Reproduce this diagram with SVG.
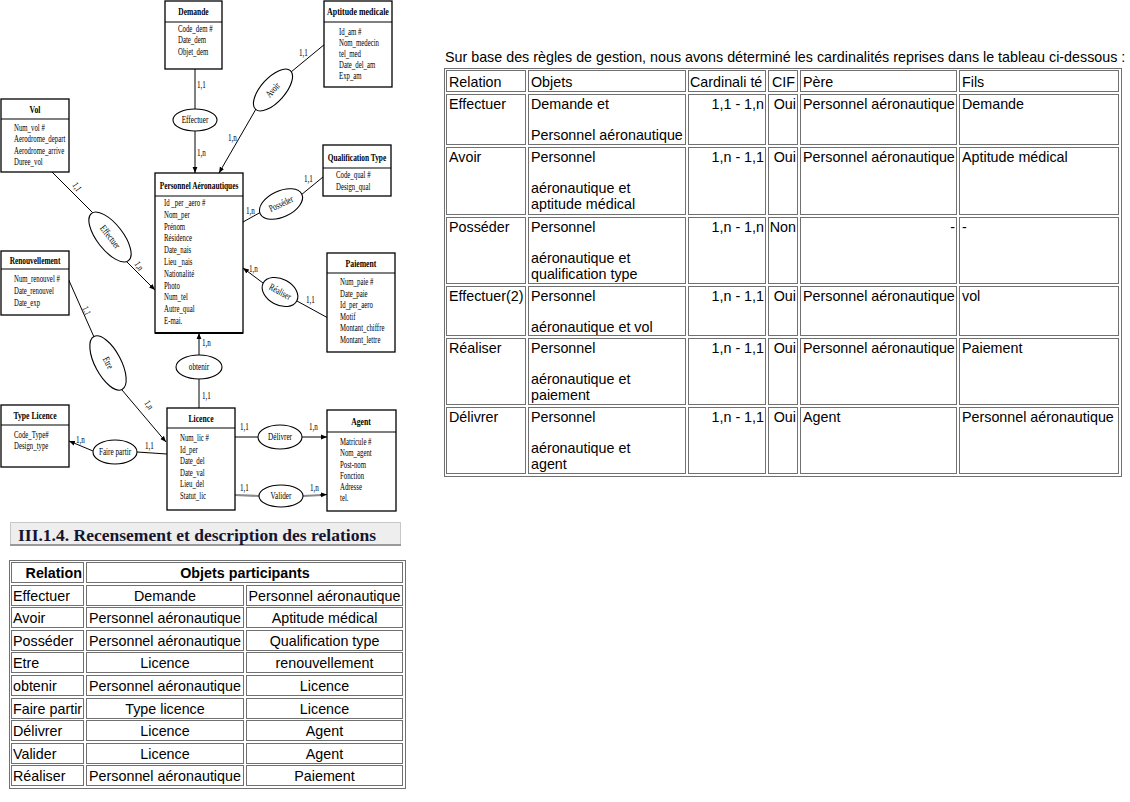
<svg xmlns="http://www.w3.org/2000/svg" width="1130" height="802" viewBox="0 0 1130 802">
<style>
.box{fill:#fff;stroke:#000;stroke-width:1.3}
.sep{stroke:#000;stroke-width:1.2}
.t{font-family:"Liberation Serif",serif;font-size:11px;font-weight:bold;text-anchor:middle;fill:#000}
.a{font-family:"Liberation Serif",serif;font-size:10px;fill:#000}
.r{font-family:"Liberation Serif",serif;font-size:10px;text-anchor:middle;fill:#000}
.c{font-family:"Liberation Serif",serif;font-size:9.5px;fill:#000}
.el{fill:#fff;stroke:#000;stroke-width:1.1}
.ln{stroke:#000;stroke-width:1;fill:none}
.lg{stroke:#8a8a8a;stroke-width:2;fill:none}
.cell{fill:none;stroke:#707070;stroke-width:1}
.tx{font-family:"Liberation Sans",Arial,sans-serif;font-size:14.3px;fill:#000}
.rt{text-anchor:end}
.ct{text-anchor:middle}
.b{font-weight:bold}
</style>
<defs>
<marker id="ar" viewBox="0 0 10 10" refX="10" refY="5" markerWidth="6" markerHeight="6" orient="auto" markerUnits="userSpaceOnUse"><path d="M0,1 L10,5 L0,9 z" fill="#000"/></marker>
</defs>
<rect x="0" y="0" width="1130" height="802" fill="#fff"/>

<!-- connectors -->
<g id="connectors">
<line class="ln" x1="195" y1="69" x2="195" y2="109"/>
<line class="ln" x1="195" y1="131" x2="195" y2="173" marker-end="url(#ar)"/>
<line class="ln" x1="325" y1="44" x2="291" y2="72"/>
<line class="ln" x1="256" y1="109" x2="219" y2="173" marker-end="url(#ar)"/>
<line class="ln" x1="243" y1="222" x2="261" y2="212"/>
<line class="ln" x1="301" y1="195" x2="323" y2="177"/>
<line class="ln" x1="52" y1="172" x2="93" y2="213"/>
<line class="ln" x1="127" y1="262" x2="155" y2="290" marker-end="url(#ar)"/>
<line class="ln" x1="67" y1="276" x2="94" y2="337"/>
<line class="ln" x1="122" y1="390" x2="166" y2="442" marker-end="url(#ar)"/>
<line class="ln" x1="328" y1="318" x2="297" y2="301"/>
<line class="ln" x1="263" y1="283" x2="243" y2="268" marker-end="url(#ar)"/>
<line class="ln" x1="199" y1="408" x2="199" y2="379"/>
<line class="ln" x1="199" y1="355" x2="199" y2="333" marker-end="url(#ar)"/>
<line class="ln" x1="167" y1="454" x2="137" y2="452"/>
<line class="ln" x1="93" y1="451" x2="69" y2="441" marker-end="url(#ar)"/>
<line class="ln" x1="235" y1="437" x2="258" y2="437"/>
<line class="ln" x1="302" y1="437" x2="327" y2="437" marker-end="url(#ar)"/>
<line class="lg" x1="235" y1="495" x2="259" y2="496"/>
<line class="lg" x1="303" y1="496" x2="322" y2="495"/>
<line class="ln" x1="320" y1="495" x2="327" y2="494.5" marker-end="url(#ar)"/>
<!-- cardinalities -->
<text class="c" transform="translate(197 88) scale(.75 1)">1,1</text>
<text class="c" transform="translate(197 156) scale(.75 1)">1,n</text>
<text class="c" transform="translate(299 56) scale(.75 1)">1,1</text>
<text class="c" transform="translate(228 141) scale(.75 1)">1,n</text>
<text class="c" transform="translate(246 214) scale(.75 1)">1,n</text>
<text class="c" transform="translate(304 182) scale(.75 1)">1,1</text>
<text class="c" transform="translate(72 185) rotate(55) scale(.75 1)">1,1</text>
<text class="c" transform="translate(134 264) rotate(55) scale(.75 1)">1,n</text>
<text class="c" transform="translate(82 308) rotate(65) scale(.75 1)">1,1</text>
<text class="c" transform="translate(144 403) rotate(55) scale(.75 1)">1,n</text>
<text class="c" transform="translate(249 272) scale(.75 1)">1,n</text>
<text class="c" transform="translate(306 303) scale(.75 1)">1,1</text>
<text class="c" transform="translate(202 346) scale(.75 1)">1,n</text>
<text class="c" transform="translate(202 399) scale(.75 1)">1,1</text>
<text class="c" transform="translate(76 443) scale(.75 1)">1,n</text>
<text class="c" transform="translate(145 449) scale(.75 1)">1,1</text>
<text class="c" transform="translate(240 430) scale(.75 1)">1,1</text>
<text class="c" transform="translate(309 430) scale(.75 1)">1,n</text>
<text class="c" transform="translate(240 491) scale(.75 1)">1,1</text>
<text class="c" transform="translate(310 491) scale(.75 1)">1,n</text>
</g>

<!-- relationships -->
<g id="rel-effectuer"><ellipse class="el" cx="195" cy="120" rx="22" ry="11"/><text class="r" transform="translate(195 123) scale(.72 1)">Effectuer</text></g>
<g id="rel-avoir"><ellipse class="el" cx="273" cy="90" rx="26" ry="12" transform="rotate(-48 273 90)"/><text class="r" transform="translate(273 90) rotate(-48) translate(0 3) scale(.72 1)">Avoir</text></g>
<g id="rel-posseder"><ellipse class="el" cx="281" cy="204" rx="23" ry="13" transform="rotate(-25 281 204)"/><text class="r" transform="translate(281 204) rotate(-25) translate(0 3) scale(.72 1)">Posséder</text></g>
<g id="rel-effectuer2"><ellipse class="el" cx="110" cy="237" rx="30" ry="13" transform="rotate(52 110 237)"/><text class="r" transform="translate(110 237) rotate(52) translate(0 3) scale(.72 1)">Effectuer</text></g>
<g id="rel-realiser"><ellipse class="el" cx="280" cy="292" rx="19" ry="13" transform="rotate(28 280 292)"/><text class="r" transform="translate(280 292) rotate(28) translate(0 3) scale(.72 1)">Réaliser</text></g>
<g id="rel-etre"><ellipse class="el" cx="108" cy="363" rx="30" ry="13" transform="rotate(62 108 363)"/><text class="r" transform="translate(108 363) rotate(62) translate(0 3) scale(.72 1)">Etre</text></g>
<g id="rel-obtenir"><ellipse class="el" cx="199" cy="367" rx="23" ry="12"/><text class="r" transform="translate(199 370) scale(.72 1)">obtenir</text></g>
<g id="rel-fairepartir"><ellipse class="el" cx="115" cy="452" rx="22" ry="12"/><text class="r" transform="translate(115 455) scale(.72 1)">Faire partir</text></g>
<g id="rel-delivrer"><ellipse class="el" cx="280" cy="437" rx="22" ry="12"/><text class="r" transform="translate(280 440) scale(.72 1)">Délivrer</text></g>
<g id="rel-valider"><ellipse class="el" cx="281" cy="496" rx="22" ry="11"/><text class="r" transform="translate(281 499) scale(.72 1)">Valider</text></g>

<!-- entities -->
<g id="demande">
<rect class="box" x="165" y="1" width="57" height="68"/>
<line class="sep" x1="165" y1="22" x2="222" y2="22"/>
<text class="t" transform="translate(193.5 15) scale(.68 1)">Demande</text>
<text class="a" transform="translate(178 32) scale(.68 1)"><tspan x="0" y="0">Code_dem #</tspan><tspan x="0" y="11.5">Date_dem</tspan><tspan x="0" y="23">Objet_dem</tspan></text>
</g>
<g id="aptitude">
<rect class="box" x="324" y="1" width="68" height="86"/>
<line class="sep" x1="324" y1="22" x2="392" y2="22"/>
<text class="t" transform="translate(358 15) scale(.72 1)">Aptitude medicale</text>
<text class="a" transform="translate(339 35) scale(.68 1)"><tspan x="0" y="0">Id_am #</tspan><tspan x="0" y="11">Nom_medecin</tspan><tspan x="0" y="22">tel_med</tspan><tspan x="0" y="33">Date_del_am</tspan><tspan x="0" y="44">Exp_am</tspan></text>
</g>
<g id="vol">
<rect class="box" x="1" y="99" width="68" height="73"/>
<line class="sep" x1="1" y1="119" x2="69" y2="119"/>
<text class="t" transform="translate(35 113) scale(.7 1)">Vol</text>
<text class="a" transform="translate(14 131) scale(.68 1)"><tspan x="0" y="0">Num_vol #</tspan><tspan x="0" y="11.5">Aerodrome_depart</tspan><tspan x="0" y="23">Aerodrome_arrive</tspan><tspan x="0" y="34.5">Duree_vol</tspan></text>
</g>
<g id="qualification">
<rect class="box" x="323" y="145" width="68" height="51"/>
<line class="sep" x1="323" y1="168" x2="391" y2="168"/>
<text class="t" transform="translate(357 161) scale(.67 1)">Qualification Type</text>
<text class="a" transform="translate(336 178) scale(.68 1)"><tspan x="0" y="0">Code_qual #</tspan><tspan x="0" y="12">Design_qual</tspan></text>
</g>
<g id="personnel">
<rect class="box" x="155" y="173" width="88" height="160"/>
<line class="sep" x1="155" y1="196" x2="243" y2="196"/>
<line x1="155" y1="333" x2="243" y2="333" stroke="#000" stroke-width="2"/>
<text class="t" transform="translate(199 189) scale(.67 1)">Personnel Aéronautiques</text>
<text class="a" transform="translate(164 206) scale(.68 1)"><tspan x="0" y="0">Id _per _aero #</tspan><tspan x="0" y="11.8">Nom_per</tspan><tspan x="0" y="23.6">Prénom</tspan><tspan x="0" y="35.4">Résidence</tspan><tspan x="0" y="47.2">Date_nais</tspan><tspan x="0" y="59">Lieu _nais</tspan><tspan x="0" y="70.8">Nationalité</tspan><tspan x="0" y="82.6">Photo</tspan><tspan x="0" y="94.4">Num_tel</tspan><tspan x="0" y="106.2">Autre_qual</tspan><tspan x="0" y="118">E-mai.</tspan></text>
</g>
<g id="renouvellement">
<rect class="box" x="1" y="251" width="68" height="64"/>
<line class="sep" x1="1" y1="269" x2="69" y2="269"/>
<text class="t" transform="translate(35 264) scale(.67 1)">Renouvellement</text>
<text class="a" transform="translate(14 282) scale(.68 1)"><tspan x="0" y="0">Num_renouvel #</tspan><tspan x="0" y="12">Date_renouvel</tspan><tspan x="0" y="24">Date_exp</tspan></text>
</g>
<g id="paiement">
<rect class="box" x="327" y="253" width="68" height="99"/>
<line class="sep" x1="327" y1="273" x2="395" y2="273"/>
<text class="t" transform="translate(361 267) scale(.7 1)">Paiement</text>
<text class="a" transform="translate(340 285) scale(.68 1)"><tspan x="0" y="0">Num_paie #</tspan><tspan x="0" y="11.6">Date_paie</tspan><tspan x="0" y="23.2">Id_per_aero</tspan><tspan x="0" y="34.8">Motif</tspan><tspan x="0" y="46.4">Montant_chiffre</tspan><tspan x="0" y="58">Montant_lettre</tspan></text>
</g>
<g id="typelicence">
<rect class="box" x="1" y="405" width="68" height="62"/>
<line class="sep" x1="1" y1="425" x2="69" y2="425"/>
<text class="t" transform="translate(35 419) scale(.7 1)">Type Licence</text>
<text class="a" transform="translate(14 438) scale(.68 1)"><tspan x="0" y="0">Code_Type#</tspan><tspan x="0" y="11.5">Design_type</tspan></text>
</g>
<g id="licence">
<rect class="box" x="167" y="408" width="68" height="102"/>
<line class="sep" x1="167" y1="428" x2="235" y2="428"/>
<text class="t" transform="translate(201 422) scale(.7 1)">Licence</text>
<text class="a" transform="translate(180 441) scale(.68 1)"><tspan x="0" y="0">Num_lic #</tspan><tspan x="0" y="11.6">Id_per</tspan><tspan x="0" y="23.2">Date_del</tspan><tspan x="0" y="34.8">Date_val</tspan><tspan x="0" y="46.4">Lieu_del</tspan><tspan x="0" y="58">Statut_lic</tspan></text>
</g>
<g id="agent">
<rect class="box" x="327" y="410" width="69" height="101"/>
<line class="sep" x1="327" y1="432" x2="396" y2="432"/>
<text class="t" transform="translate(361 425) scale(.7 1)">Agent</text>
<text class="a" transform="translate(340 445) scale(.68 1)"><tspan x="0" y="0">Matricule #</tspan><tspan x="0" y="11.3">Nom_agent</tspan><tspan x="0" y="22.6">Post-nom</tspan><tspan x="0" y="33.9">Fonction</tspan><tspan x="0" y="45.2">Adresse</tspan><tspan x="0" y="56.5">tel.</tspan></text>
</g>

<!-- right table -->
<g id="cardinality-table">
<text class="tx" x="445" y="62">Sur base des règles de gestion, nous avons déterminé les cardinalités reprises dans le tableau ci-dessous :</text>
<rect class="cell" x="444.5" y="68.5" width="677" height="408"/>
<g>
<rect class="cell" x="446.5" y="70.5" width="79" height="21"/><rect class="cell" x="528.5" y="70.5" width="157" height="21"/><rect class="cell" x="688.5" y="70.5" width="77" height="21"/><rect class="cell" x="768.5" y="70.5" width="29" height="21"/><rect class="cell" x="800.5" y="70.5" width="156" height="21"/><rect class="cell" x="959.5" y="70.5" width="159" height="21"/>
<rect class="cell" x="446.5" y="94.5" width="79" height="50"/><rect class="cell" x="528.5" y="94.5" width="157" height="50"/><rect class="cell" x="688.5" y="94.5" width="77" height="50"/><rect class="cell" x="768.5" y="94.5" width="29" height="50"/><rect class="cell" x="800.5" y="94.5" width="156" height="50"/><rect class="cell" x="959.5" y="94.5" width="159" height="50"/>
<rect class="cell" x="446.5" y="147.5" width="79" height="67"/><rect class="cell" x="528.5" y="147.5" width="157" height="67"/><rect class="cell" x="688.5" y="147.5" width="77" height="67"/><rect class="cell" x="768.5" y="147.5" width="29" height="67"/><rect class="cell" x="800.5" y="147.5" width="156" height="67"/><rect class="cell" x="959.5" y="147.5" width="159" height="67"/>
<rect class="cell" x="446.5" y="217.5" width="79" height="66"/><rect class="cell" x="528.5" y="217.5" width="157" height="66"/><rect class="cell" x="688.5" y="217.5" width="77" height="66"/><rect class="cell" x="768.5" y="217.5" width="29" height="66"/><rect class="cell" x="800.5" y="217.5" width="156" height="66"/><rect class="cell" x="959.5" y="217.5" width="159" height="66"/>
<rect class="cell" x="446.5" y="286.5" width="79" height="49"/><rect class="cell" x="528.5" y="286.5" width="157" height="49"/><rect class="cell" x="688.5" y="286.5" width="77" height="49"/><rect class="cell" x="768.5" y="286.5" width="29" height="49"/><rect class="cell" x="800.5" y="286.5" width="156" height="49"/><rect class="cell" x="959.5" y="286.5" width="159" height="49"/>
<rect class="cell" x="446.5" y="338.5" width="79" height="66"/><rect class="cell" x="528.5" y="338.5" width="157" height="66"/><rect class="cell" x="688.5" y="338.5" width="77" height="66"/><rect class="cell" x="768.5" y="338.5" width="29" height="66"/><rect class="cell" x="800.5" y="338.5" width="156" height="66"/><rect class="cell" x="959.5" y="338.5" width="159" height="66"/>
<rect class="cell" x="446.5" y="407.5" width="79" height="66"/><rect class="cell" x="528.5" y="407.5" width="157" height="66"/><rect class="cell" x="688.5" y="407.5" width="77" height="66"/><rect class="cell" x="768.5" y="407.5" width="29" height="66"/><rect class="cell" x="800.5" y="407.5" width="156" height="66"/><rect class="cell" x="959.5" y="407.5" width="159" height="66"/>
</g>
<g class="tx">
<text x="449" y="87">Relation</text><text x="531" y="87">Objets</text><text x="690" y="87">Cardinali té</text><text x="772" y="87">CIF</text><text x="803" y="87">Père</text><text x="962" y="87">Fils</text>
<text x="449" y="109">Effectuer</text><text x="531" y="109">Demande et</text><text x="531" y="140">Personnel aéronautique</text><text class="rt" x="764" y="109">1,1 - 1,n</text><text class="rt" x="796" y="109">Oui</text><text x="803" y="109">Personnel aéronautique</text><text x="962" y="109">Demande</text>
<text x="449" y="162">Avoir</text><text x="531" y="162">Personnel</text><text x="531" y="193">aéronautique et</text><text x="531" y="209">aptitude médical</text><text class="rt" x="764" y="162">1,n - 1,1</text><text class="rt" x="796" y="162">Oui</text><text x="803" y="162">Personnel aéronautique</text><text x="962" y="162">Aptitude médical</text>
<text x="449" y="232">Posséder</text><text x="531" y="232">Personnel</text><text x="531" y="263">aéronautique et</text><text x="531" y="279">qualification type</text><text class="rt" x="764" y="232">1,n - 1,n</text><text class="rt" x="796" y="232">Non</text><text class="rt" x="955" y="232">-</text><text x="962" y="232">-</text>
<text x="449" y="301">Effectuer(2)</text><text x="531" y="301">Personnel</text><text x="531" y="332">aéronautique et vol</text><text class="rt" x="764" y="301">1,n - 1,1</text><text class="rt" x="796" y="301">Oui</text><text x="803" y="301">Personnel aéronautique</text><text x="962" y="301">vol</text>
<text x="449" y="353">Réaliser</text><text x="531" y="353">Personnel</text><text x="531" y="384">aéronautique et</text><text x="531" y="400">paiement</text><text class="rt" x="764" y="353">1,n - 1,1</text><text class="rt" x="796" y="353">Oui</text><text x="803" y="353">Personnel aéronautique</text><text x="962" y="353">Paiement</text>
<text x="449" y="422">Délivrer</text><text x="531" y="422">Personnel</text><text x="531" y="453">aéronautique et</text><text x="531" y="469">agent</text><text class="rt" x="764" y="422">1,n - 1,1</text><text class="rt" x="796" y="422">Oui</text><text x="803" y="422">Agent</text><text x="962" y="422">Personnel aéronautique</text>
</g>
</g>

<!-- heading -->
<g id="heading">
<rect x="10.5" y="522.5" width="390" height="22" fill="#eeeeee" stroke="#999" stroke-width="1" stroke-dasharray="1 1"/>
<line x1="10" y1="545" x2="401" y2="545" stroke="#999" stroke-width="2"/>
<text x="18" y="541" font-family="'Liberation Serif',serif" font-size="16.5px" font-weight="bold" fill="#151530" textLength="358" lengthAdjust="spacingAndGlyphs">III.1.4. Recensement et description des relations</text>
</g>

<!-- bottom table -->
<g id="relations-table">
<rect class="cell" x="9.5" y="560.5" width="396" height="228"/>
<rect class="cell" x="11.5" y="562.5" width="72" height="20"/><rect class="cell" x="86.5" y="562.5" width="316" height="20"/>
<rect class="cell" x="11.5" y="585.5" width="72" height="20"/><rect class="cell" x="86.5" y="585.5" width="157" height="20"/><rect class="cell" x="246.5" y="585.5" width="156" height="20"/>
<rect class="cell" x="11.5" y="607.5" width="72" height="20"/><rect class="cell" x="86.5" y="607.5" width="157" height="20"/><rect class="cell" x="246.5" y="607.5" width="156" height="20"/>
<rect class="cell" x="11.5" y="630.5" width="72" height="20"/><rect class="cell" x="86.5" y="630.5" width="157" height="20"/><rect class="cell" x="246.5" y="630.5" width="156" height="20"/>
<rect class="cell" x="11.5" y="652.5" width="72" height="20"/><rect class="cell" x="86.5" y="652.5" width="157" height="20"/><rect class="cell" x="246.5" y="652.5" width="156" height="20"/>
<rect class="cell" x="11.5" y="675.5" width="72" height="20"/><rect class="cell" x="86.5" y="675.5" width="157" height="20"/><rect class="cell" x="246.5" y="675.5" width="156" height="20"/>
<rect class="cell" x="11.5" y="698.5" width="72" height="20"/><rect class="cell" x="86.5" y="698.5" width="157" height="20"/><rect class="cell" x="246.5" y="698.5" width="156" height="20"/>
<rect class="cell" x="11.5" y="720.5" width="72" height="20"/><rect class="cell" x="86.5" y="720.5" width="157" height="20"/><rect class="cell" x="246.5" y="720.5" width="156" height="20"/>
<rect class="cell" x="11.5" y="743.5" width="72" height="20"/><rect class="cell" x="86.5" y="743.5" width="157" height="20"/><rect class="cell" x="246.5" y="743.5" width="156" height="20"/>
<rect class="cell" x="11.5" y="765.5" width="72" height="20"/><rect class="cell" x="86.5" y="765.5" width="157" height="20"/><rect class="cell" x="246.5" y="765.5" width="156" height="20"/>
<g class="tx">
<text class="b rt" x="82" y="578">Relation</text><text class="b ct" x="245" y="578">Objets participants</text>
<text x="13" y="601">Effectuer</text><text class="ct" x="165" y="601">Demande</text><text class="ct" x="324.5" y="601">Personnel aéronautique</text>
<text x="13" y="623">Avoir</text><text class="ct" x="165" y="623">Personnel aéronautique</text><text class="ct" x="324.5" y="623">Aptitude médical</text>
<text x="13" y="646">Posséder</text><text class="ct" x="165" y="646">Personnel aéronautique</text><text class="ct" x="324.5" y="646">Qualification type</text>
<text x="13" y="668">Etre</text><text class="ct" x="165" y="668">Licence</text><text class="ct" x="324.5" y="668">renouvellement</text>
<text x="13" y="691">obtenir</text><text class="ct" x="165" y="691">Personnel aéronautique</text><text class="ct" x="324.5" y="691">Licence</text>
<text x="13" y="714">Faire partir</text><text class="ct" x="165" y="714">Type licence</text><text class="ct" x="324.5" y="714">Licence</text>
<text x="13" y="736">Délivrer</text><text class="ct" x="165" y="736">Licence</text><text class="ct" x="324.5" y="736">Agent</text>
<text x="13" y="759">Valider</text><text class="ct" x="165" y="759">Licence</text><text class="ct" x="324.5" y="759">Agent</text>
<text x="13" y="781">Réaliser</text><text class="ct" x="165" y="781">Personnel aéronautique</text><text class="ct" x="324.5" y="781">Paiement</text>
</g>
</g>
</svg>
